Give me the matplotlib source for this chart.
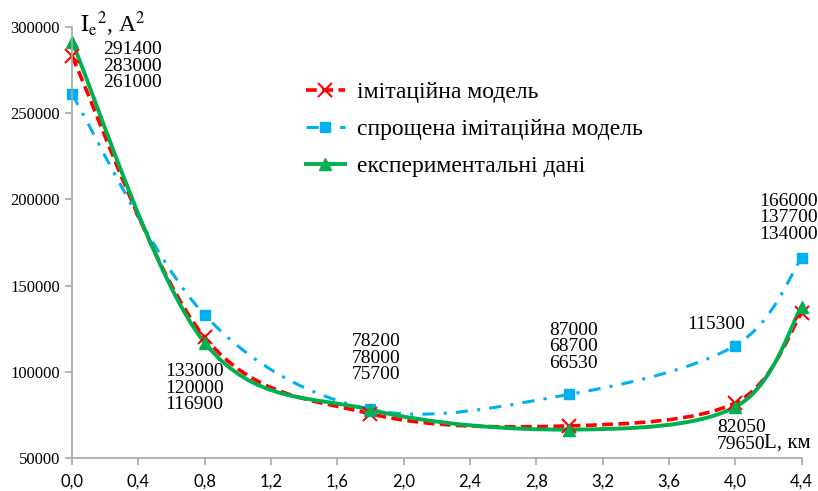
import numpy as np
import matplotlib.pyplot as plt
from matplotlib.path import Path
from matplotlib.patches import PathPatch
from matplotlib.lines import Line2D

plt.rcParams['mathtext.fontset'] = 'stix'

# дані з графіка
L = [0.0, 0.8, 1.8, 3.0, 4.0, 4.4]
imit = [283000, 120000, 75700, 68700, 82050, 134000]
sproshch = [261000, 133000, 78200, 87000, 115300, 166000]
eksper = [291400, 116900, 78000, 66530, 79650, 137700]

xticks = [0.0, 0.4, 0.8, 1.2, 1.6, 2.0, 2.4, 2.8, 3.2, 3.6, 4.0, 4.4]
yticks = [50000, 100000, 150000, 200000, 250000, 300000]

labels = ['імітаційна модель', 'спрощена імітаційна модель', 'експериментальні дані']

serif = 'Liberation Serif'


def smooth_path(x, y):
    # згладжена лінія як в Excel (криві Безьє через точки)
    p = np.column_stack([x, y]).astype(float)
    p = np.vstack([p[0], p, p[-1]])
    verts = [p[1]]
    codes = [Path.MOVETO]
    for i in range(1, len(p) - 2):
        c1 = p[i] + (p[i + 1] - p[i - 1]) / 6
        c2 = p[i + 1] - (p[i + 2] - p[i]) / 6
        verts += [c1, c2, p[i + 1]]
        codes += [Path.CURVE4] * 3
    return Path(verts, codes)


fig = plt.figure(figsize=(8.18, 4.91), dpi=100)
ax = fig.add_axes([0.088, 0.067, 0.892, 0.878])

red = '#FF0000'
blue = '#00B0F0'
green = '#00B050'
red_ls = (0, (3, 1.5))
blue_ls = (0, (4, 3, 1, 3))

ax.add_patch(PathPatch(smooth_path(L, sproshch), fc='none', ec=blue, lw=2.2,
                       ls=blue_ls, transform=ax.transData, clip_on=False))
ax.add_patch(PathPatch(smooth_path(L, imit), fc='none', ec=red, lw=2.6,
                       ls=red_ls, transform=ax.transData, clip_on=False))
ax.add_patch(PathPatch(smooth_path(L, eksper), fc='none', ec=green, lw=2.8,
                       transform=ax.transData, clip_on=False))

ax.plot(L, sproshch, ls='none', marker='s', ms=7, color=blue, clip_on=False)
ax.plot(L, imit, ls='none', marker='x', ms=10, mew=1.5, color=red, clip_on=False)
ax.plot(L, eksper, ls='none', marker='^', ms=9, color=green, clip_on=False)

ax.set_xlim(0, 4.4)
ax.set_ylim(50000, 300000)
ax.set_xticks(xticks)
ax.set_xticklabels([f'{v:.1f}'.replace('.', ',') for v in xticks],
                   family='Lato', fontsize=12)
ax.set_yticks(yticks)
ax.set_yticklabels([str(v) for v in yticks], family=serif, fontsize=12)

for s in ['top', 'right']:
    ax.spines[s].set_visible(False)
for s in ['left', 'bottom']:
    ax.spines[s].set_color('#A6A6A6')
    ax.spines[s].set_linewidth(1.2)
ax.tick_params(color='#A6A6A6', length=5, width=1.2)
ax.tick_params(axis='x', pad=6)

# підписи значень
txt = dict(family=serif, fontsize=14, va='top', linespacing=0.97)
ax.text(0.19, 291800, '291400\n283000\n261000', **txt)
ax.text(0.56, 105000, '133000\n120000\n116900', **txt)
ax.text(1.69, 122500, '78200\n78000\n75700', **txt)
ax.text(2.88, 129000, '87000\n68700\n66530', **txt)
ax.text(3.71, 132400, '115300', **txt)
ax.text(3.89, 72600, '82050\n79650', **txt)
ax.text(4.145, 204000, '166000\n137700\n134000', **txt)
ax.text(4.175, 58700, 'L, км', family=serif, fontsize=15, va='center')

ax.text(0.05, 301500, r'$\mathrm{{I_e}^2}$, A$^2$', family=serif, fontsize=17,
        va='center', clip_on=False)

handles = [
    Line2D([], [], color=red, lw=2.6, ls=red_ls, marker='x', ms=10, mew=1.5),
    Line2D([], [], color=blue, lw=2.2, ls=blue_ls, marker='s', ms=7),
    Line2D([], [], color=green, lw=2.8, marker='^', ms=9),
]
ax.legend(handles, labels, loc='upper left', bbox_to_anchor=(0.3205, 0.873),
          frameon=False, prop={'family': serif, 'size': 17},
          borderpad=0, borderaxespad=0,
          handlelength=1.65, handletextpad=0.5, labelspacing=0.65)

plt.savefig('out.png', dpi=100)
